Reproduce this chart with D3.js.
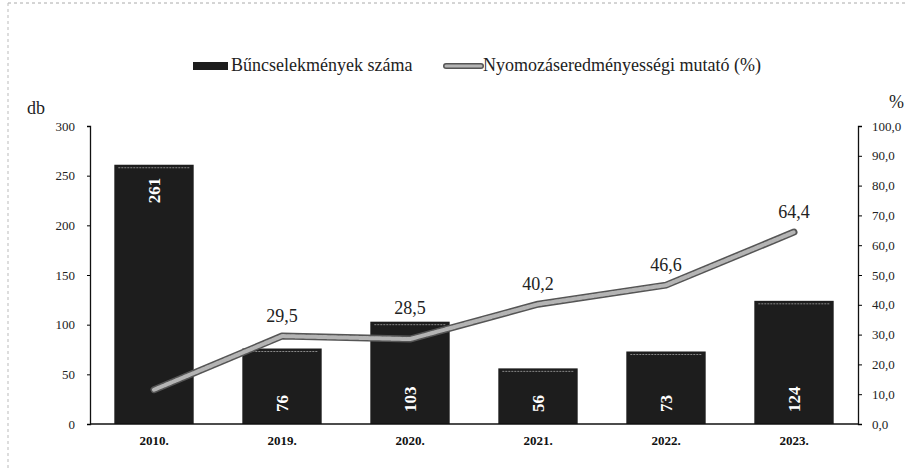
<!DOCTYPE html>
<html>
<head>
<meta charset="utf-8">
<script src="https://cdn.jsdelivr.net/npm/d3@7"></script>
<style>
  body { margin: 0; background: #fff; }
  svg text { font-family: "Liberation Serif", "Times New Roman", serif; }
</style>
</head>
<body>
<div id="chart"></div>
<script>
const years = ['2010.', '2019.', '2020.', '2021.', '2022.', '2023.'];
const crimes = [261, 76, 103, 56, 73, 124];
const rate = [11.5, 29.5, 28.5, 40.2, 46.6, 64.4];
const rateLabels = ['', '29,5', '28,5', '40,2', '46,6', '64,4'];
const leftTicks = [0, 50, 100, 150, 200, 250, 300];
const rightTicks = [0, 10, 20, 30, 40, 50, 60, 70, 80, 90, 100];

const serif = '"Liberation Serif", "Times New Roman", serif';
const width = 910;
const height = 471;
const margin = { top: 126, right: 52, bottom: 47, left: 90 };
const innerW = width - margin.left - margin.right;
const innerH = height - margin.top - margin.bottom;

const svg = d3.select('#chart')
    .append('svg')
    .attr('width', width)
    .attr('height', height)
    .attr('font-family', serif);

// scanned page frame
svg.append('line')
    .attr('x1', 8).attr('x2', 906).attr('y1', 3).attr('y2', 3)
    .attr('stroke', '#aaa').attr('stroke-dasharray', '3,3');
svg.append('line')
    .attr('x1', 8).attr('x2', 8).attr('y1', 3).attr('y2', height)
    .attr('stroke', '#bbb').attr('stroke-dasharray', '3,3');

const g = svg.append('g')
    .attr('transform', `translate(${margin.left},${margin.top})`);

const x = d3.scaleBand()
    .domain(years)
    .range([0, innerW])
    .paddingInner(0.38)
    .paddingOuter(0.19);

const yLeft = d3.scaleLinear().domain([0, 300]).range([innerH, 0]);
const yRight = d3.scaleLinear().domain([0, 100]).range([innerH, 0]);

// bars
g.selectAll('.bar')
    .data(crimes)
    .enter()
    .append('rect')
    .attr('class', 'bar')
    .attr('x', (d, i) => x(years[i]))
    .attr('y', d => yLeft(d))
    .attr('width', x.bandwidth())
    .attr('height', d => innerH - yLeft(d))
    .attr('fill', '#1d1d1d');

// light scan streak along the bar tops
g.selectAll('.barTop')
    .data(crimes)
    .enter()
    .append('line')
    .attr('x1', (d, i) => x(years[i]) + 4)
    .attr('x2', (d, i) => x(years[i]) + x.bandwidth() - 4)
    .attr('y1', d => yLeft(d) + 3)
    .attr('y2', d => yLeft(d) + 3)
    .attr('stroke', '#888')
    .attr('stroke-width', 1)
    .attr('stroke-dasharray', '2,1');

// bar value labels
g.selectAll('.barLabel')
    .data(crimes)
    .enter()
    .append('text')
    .attr('class', 'barLabel')
    .attr('transform', (d, i) => {
        const cx = x(years[i]) + x.bandwidth() / 2 + 6;
        const cy = d > 200 ? yLeft(d) + 13 : innerH - 12;
        return `translate(${cx},${cy})rotate(-90)`;
    })
    .attr('text-anchor', d => d > 200 ? 'end' : 'start')
    .attr('fill', '#fff')
    .attr('font-family', serif)
    .style('font-size', '17px')
    .style('font-weight', 'bold')
    .text(d => d);

// axes
const leftAxis = d3.axisLeft(yLeft).tickValues(leftTicks).tickSize(3).tickPadding(12);
const gl = g.append('g').call(leftAxis).attr('font-family', serif);
gl.select('.domain').attr('stroke', '#111').attr('stroke-width', 1.3);
gl.selectAll('text').style('font-size', '13px').attr('fill', '#222');

const rightAxis = d3.axisRight(yRight)
    .tickValues(rightTicks)
    .tickSize(4)
    .tickPadding(10)
    .tickFormat(d => d3.format('.1f')(d).replace('.', ','));
const gr = g.append('g').attr('transform', `translate(${innerW},0)`).call(rightAxis).attr('font-family', serif);
gr.select('.domain').attr('stroke', '#111').attr('stroke-width', 1.3);
gr.selectAll('text').style('font-size', '13px').attr('fill', '#222');

g.append('line')
    .attr('x1', 0).attr('x2', innerW)
    .attr('y1', innerH).attr('y2', innerH)
    .attr('stroke', '#111').attr('stroke-width', 1.3);

// category labels
g.selectAll('.cat')
    .data(years)
    .enter()
    .append('text')
    .attr('x', d => x(d) + x.bandwidth() / 2)
    .attr('y', innerH + 21)
    .attr('text-anchor', 'middle')
    .style('font-size', '13px')
    .style('font-weight', 'bold')
    .attr('fill', '#111')
    .text(d => d);

// rate line
const line = d3.line()
    .x((d, i) => x(years[i]) + x.bandwidth() / 2)
    .y(d => yRight(d));

g.append('path')
    .datum(rate)
    .attr('fill', 'none')
    .attr('stroke', '#555')
    .attr('stroke-width', 7)
    .attr('stroke-linejoin', 'round')
    .attr('stroke-linecap', 'round')
    .attr('d', line);
g.append('path')
    .datum(rate)
    .attr('fill', 'none')
    .attr('stroke', '#b4b4b4')
    .attr('stroke-width', 4)
    .attr('stroke-linejoin', 'round')
    .attr('stroke-linecap', 'round')
    .attr('stroke-dasharray', '3,1')
    .attr('d', line);

// rate labels sit above the point, and above the bar when it is taller
g.selectAll('.rateLabel')
    .data(rate)
    .enter()
    .append('text')
    .attr('class', 'rateLabel')
    .attr('x', (d, i) => x(years[i]) + x.bandwidth() / 2)
    .attr('y', (d, i) => Math.min(yRight(d) - 14, yLeft(crimes[i]) - 8))
    .attr('text-anchor', 'middle')
    .style('font-size', '18px')
    .attr('fill', '#222')
    .text((d, i) => rateLabels[i]);

// axis titles
svg.append('text')
    .attr('x', 27).attr('y', 114)
    .style('font-size', '18px')
    .attr('fill', '#222')
    .text('db');
svg.append('text')
    .attr('x', 889).attr('y', 108)
    .style('font-size', '18px')
    .attr('fill', '#222')
    .text('%');

// legend
const legend = svg.append('g');
legend.append('rect')
    .attr('x', 193).attr('y', 62)
    .attr('width', 35).attr('height', 8)
    .attr('fill', '#1d1d1d');
legend.append('text')
    .attr('x', 231).attr('y', 71)
    .style('font-size', '18px')
    .attr('fill', '#222')
    .text('Bűncselekmények száma');
legend.append('line')
    .attr('x1', 446).attr('x2', 481)
    .attr('y1', 66).attr('y2', 66)
    .attr('stroke', '#555').attr('stroke-width', 6)
    .attr('stroke-linecap', 'round');
legend.append('line')
    .attr('x1', 446).attr('x2', 481)
    .attr('y1', 66).attr('y2', 66)
    .attr('stroke', '#b4b4b4').attr('stroke-width', 3)
    .attr('stroke-linecap', 'round');
legend.append('text')
    .attr('x', 483).attr('y', 71)
    .style('font-size', '18px')
    .attr('fill', '#222')
    .text('Nyomozáseredményességi mutató (%)');
</script>
</body>
</html>
